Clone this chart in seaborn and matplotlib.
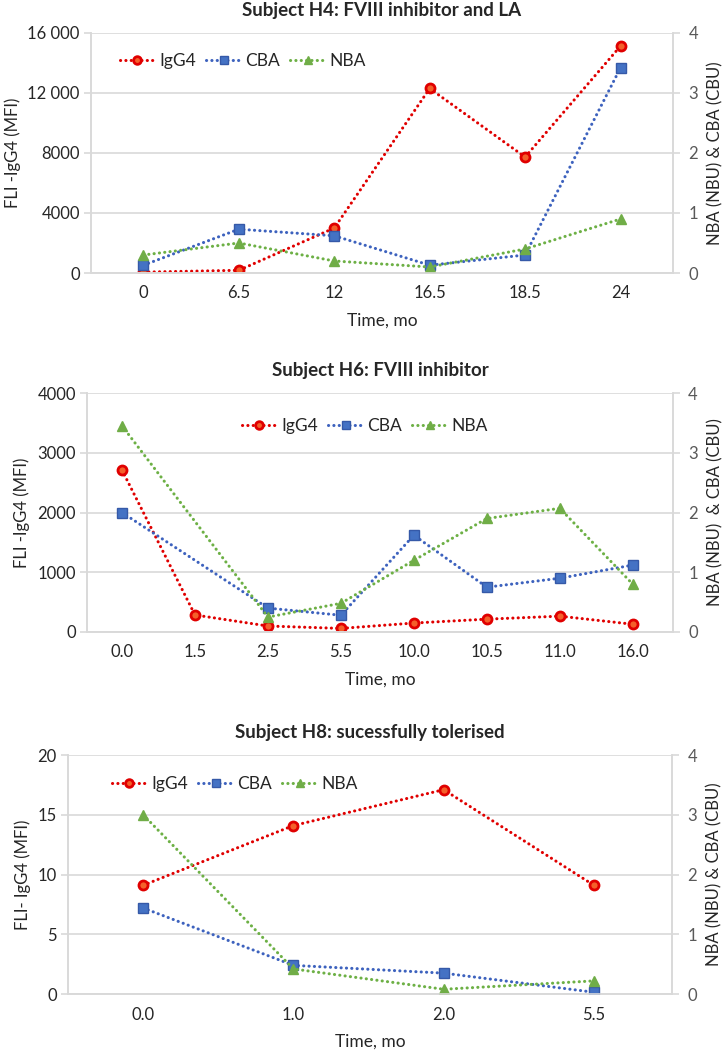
import numpy as np
import pandas as pd
import matplotlib
matplotlib.use("Agg")
import matplotlib.pyplot as plt
import seaborn as sns

# values
h4_time = ["0", "6.5", "12", "16.5", "18.5", "24"]
h4_igg4 = [60, 180, 3000, 12300, 7730, 15130]
h4_cba = [0.13, 0.73, 0.62, 0.13, 0.30, 3.42]
h4_nba = [0.30, 0.50, 0.20, 0.10, 0.40, 0.90]

h6_time = ["0.0", "1.5", "2.5", "5.5", "10.0", "10.5", "11.0", "16.0"]
h6_igg4 = [2710, 285, 100, 60, 150, 215, 265, 130]
h6_cba = [2.00, np.nan, 0.40, 0.28, 1.62, 0.75, 0.90, 1.12]
h6_nba = [3.45, np.nan, 0.25, 0.48, 1.20, 1.90, 2.07, 0.80]

h8_time = ["0.0", "1.0", "2.0", "5.5"]
h8_igg4 = [9.1, 14.1, 17.1, 9.1]
h8_cba = [1.44, 0.48, 0.35, 0.03]
h8_nba = [3.00, 0.42, 0.08, 0.22]

sns.set_style("white")
plt.rcParams["font.family"] = ["Lato", "DejaVu Sans"]

RED = "#E00000"
BLUE = "#3D62BE"
GREEN = "#6DB045"
GRID = "#D9D9D9"
dots = (0, (0.05, 1.7))

fig = plt.figure(figsize=(7.26, 10.5), dpi=100)


def panel(rect, title, times, igg4, cba, nba, ymax, yticks, yticklabels,
          ylabel, rlabel, xlim, leg_xy):
    ax = fig.add_axes(rect)
    ax2 = ax.twinx()
    df = pd.DataFrame({"pos": np.arange(len(times)), "IgG4": igg4,
                       "CBA": cba, "NBA": nba})

    sns.lineplot(data=df.dropna(subset=["IgG4"]), x="pos", y="IgG4", ax=ax,
                 color=RED, lw=2.2, ls=dots, dash_capstyle="round",
                 marker="o", ms=6.5, mfc="#F4602A", mec=RED, mew=2,
                 label="IgG4")
    sns.lineplot(data=df.dropna(subset=["CBA"]), x="pos", y="CBA", ax=ax2,
                 color=BLUE, lw=2.2, ls=dots, dash_capstyle="round",
                 marker="s", ms=6.5, mfc="#4472C4", mec="#3559A8", mew=1,
                 label="CBA")
    sns.lineplot(data=df.dropna(subset=["NBA"]), x="pos", y="NBA", ax=ax2,
                 color=GREEN, lw=2.2, ls=dots, dash_capstyle="round",
                 marker="^", ms=7.5, mfc="#70AD47", mec="#70AD47", mew=1,
                 label="NBA")

    ax.set_xlim(*xlim)
    ax.set_ylim(0, ymax)
    ax2.set_ylim(0, 4)
    ax.set_yticks(yticks)
    ax.set_yticklabels(yticklabels)
    ax2.set_yticks([0, 1, 2, 3, 4])
    ax.set_xticks(np.arange(len(times)))
    ax.set_xticklabels(times)

    ax.yaxis.grid(True, color=GRID, lw=1.2)
    ax.xaxis.grid(False)
    for a in (ax, ax2):
        for s in a.spines.values():
            s.set_color(GRID)
            s.set_linewidth(1.2)
        a.spines["top"].set_visible(False)
    ax.tick_params(axis="y", length=5, color=GRID, width=1.2, pad=3,
                   labelsize=12, labelcolor="#262626")
    ax.tick_params(axis="x", length=0, pad=9, labelsize=12,
                   labelcolor="#262626")
    ax2.tick_params(axis="y", length=5, color=GRID, width=1.2, pad=6,
                    labelsize=12, labelcolor="#595959")

    ax.set_xlabel("Time, mo", fontsize=12.5, color="#262626", labelpad=8)
    ax.set_ylabel(ylabel, fontsize=12, color="#262626", labelpad=5)
    ax2.set_ylabel(rlabel, fontsize=12, color="#262626", labelpad=7)

    ax.set_title(title, fontsize=13.5, fontweight="bold", color="#262626",
                 pad=12)

    h1, l1 = ax.get_legend_handles_labels()
    h2, l2 = ax2.get_legend_handles_labels()
    if ax.get_legend() is not None:
        ax.get_legend().remove()
    ax2.legend(h1 + h2, l1 + l2, loc="center left",
               bbox_to_anchor=leg_xy, bbox_transform=fig.transFigure,
               ncol=3, frameon=False, fontsize=12.5, handlelength=2.0,
               handletextpad=0.25, columnspacing=0.6, borderaxespad=0,
               borderpad=0, markerscale=0.85)
    return ax


panel([0.1253, 0.740, 0.8017, 0.2286], "Subject H4: FVIII inhibitor and LA",
      h4_time, h4_igg4, h4_cba, h4_nba, 16000,
      [0, 4000, 8000, 12000, 16000], ["0", "4000", "8000", "12 000", "16 000"],
      "FLI -IgG4 (MFI)", "NBA (NBU) & CBA (CBU)", (-0.55, 5.55),
      (120 / 726, 1 - 61 / 1050))

panel([0.1198, 0.3981, 0.8071, 0.2276], "Subject H6: FVIII inhibitor",
      h6_time, h6_igg4, h6_cba, h6_nba, 4000,
      [0, 1000, 2000, 3000, 4000], ["0", "1000", "2000", "3000", "4000"],
      "FLI -IgG4 (MFI)", "NBA (NBU)  & CBA (CBU)", (-0.48, 7.55),
      (242 / 726, 1 - 426 / 1050))

panel([0.0937, 0.0533, 0.8320, 0.2276], "Subject H8: sucessfully tolerised",
      h8_time, h8_igg4, h8_cba, h8_nba, 20,
      [0, 5, 10, 15, 20], ["0", "5", "10", "15", "20"],
      "FLI- IgG4 (MFI)", "NBA (NBU) & CBA (CBU)", (-0.5, 3.52),
      (112 / 726, 1 - 784 / 1050))

fig.savefig("out.png", dpi=100)
